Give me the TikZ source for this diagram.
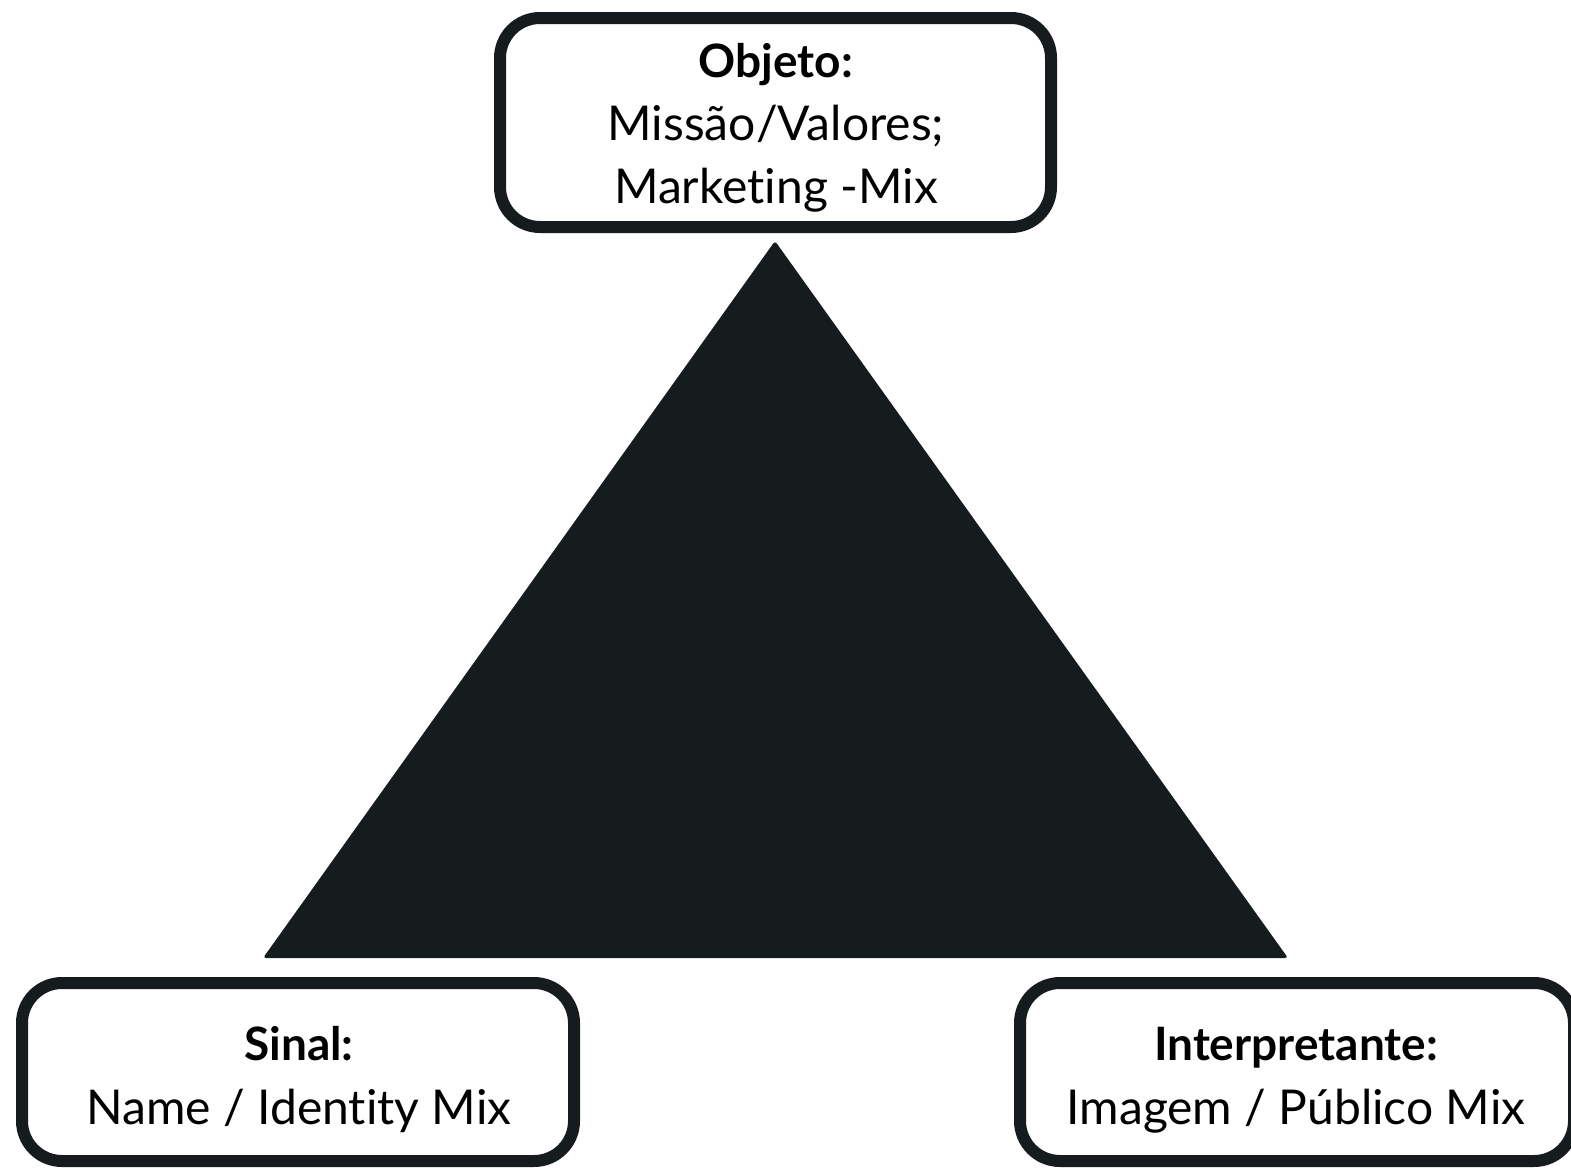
\documentclass[tikz,border=0pt]{standalone}
\usepackage{fontspec}
\setmainfont[Ligatures=NoCommon]{Lato}
\definecolor{ink}{HTML}{161C1E}
\begin{document}
\begin{tikzpicture}[x=1pt,y=-1pt,
  box/.style={draw=ink,line width=12pt,rounded corners=40pt,fill=white},
  lbl/.style={anchor=base,inner sep=0pt,text=black,font=\fontsize{48}{63}\selectfont},
  hd/.style={lbl,font=\fontsize{46}{63}\selectfont\bfseries}]
\useasboundingbox (0,0) rectangle (1571,1170);
% boxes
\node[box,minimum width=551pt,minimum height=209pt] (obj) at (775.5,122.5) {};
\node[box,minimum width=552pt,minimum height=178pt] (sin) at (298,1072) {};
\node[box,minimum width=554pt,minimum height=178pt] (int) at (1297,1072) {};
% texts
\node[hd] (t1) at (776,77) {Objeto:};
\node[lbl] (t2) at (776,140) {Missão/Valores;};
\node[lbl] (t3) at (776,203) {Marketing -Mix};
\node[hd] (s1) at (299,1060) {Sinal:};
\node[lbl] (s2) at (299,1124) {Name / Identity Mix};
\node[hd] (i1) at (1296,1060) {Interpretante:};
\node[lbl] (i2) at (1296,1124) {Imagem / Público Mix};
% triangle
\coordinate (apex) at (775,241);
\coordinate (bl) at (263,958);
\coordinate (br) at (1288,958);
\fill[ink,rounded corners=3pt] (apex) -- (br) -- (bl) -- cycle;
\end{tikzpicture}
\end{document}
